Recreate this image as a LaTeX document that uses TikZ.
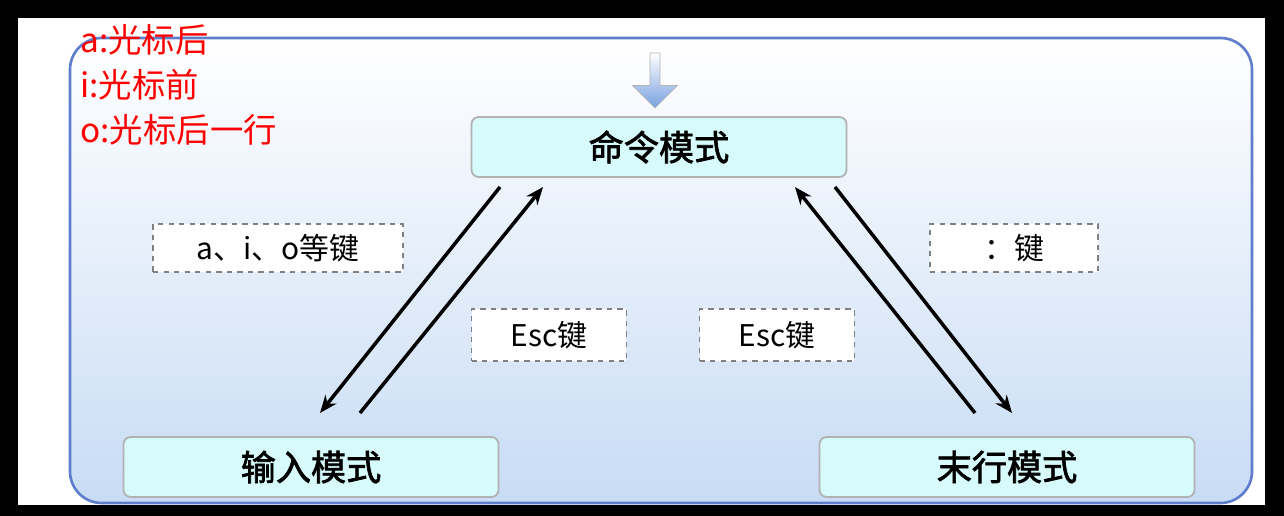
\documentclass[tikz,border=0pt]{standalone}
\usepackage{fontspec}
\setmainfont{Noto Sans CJK SC}[AutoFakeBold=2]
\usetikzlibrary{shapes.arrows,arrows.meta}
\definecolor{panelbot}{RGB}{200,220,245}
\definecolor{panelborder}{RGB}{95,125,205}
\definecolor{modefill}{RGB}{215,250,250}
\definecolor{arrowfill}{RGB}{120,160,225}
\begin{document}
\begin{tikzpicture}[x=0.02cm,y=-0.02cm,
  mode/.style={draw=gray!60,fill=modefill,rounded corners=4pt,line width=1pt,minimum width=7.5cm,minimum height=1.2cm,font=\fontsize{20}{24}\selectfont\bfseries},
  keylbl/.style={draw=gray,dashed,fill=white,thick,minimum height=0.96cm,font=\fontsize{17}{20}\selectfont},
  arr/.style={-{Stealth[length=10pt,width=8pt]},line width=2pt},
  red/.style={text=red,anchor=north west,inner sep=0pt,font=\fontsize{19}{22}\selectfont}]
\useasboundingbox (0,0) rectangle (1284,516);
\fill[black] (0,0) rectangle (1284,516);
\fill[white] (18,18) rectangle (1265,505);
\shade[top color=white,bottom color=panelbot,draw=panelborder,line width=1.5pt,rounded corners=18pt] (70,38) rectangle (1252,503);
\node[single arrow,shape border rotate=270,draw=gray!60,top color=white,bottom color=arrowfill,minimum height=1.1cm,minimum width=0.9cm,single arrow head extend=0.15cm,inner sep=1pt] (top) at (655,78) {};
\node[mode] (cmd) at (659,147) {命令模式};
\node[mode] (ins) at (311,467) {输入模式};
\node[mode] (last) at (1007,467) {末行模式};
\node[keylbl,minimum width=5cm] (l1) at (278,248) {a、i、o等键};
\node[keylbl,minimum width=3.1cm,minimum height=1.04cm] (l2) at (549,335) {Esc键};
\node[keylbl,minimum width=3.1cm,minimum height=1.04cm] (l3) at (777,335) {Esc键};
\node[keylbl,minimum width=3.36cm] (l4) at (1014,248) {：键};
\coordinate (a1) at (500,187); \coordinate (a2) at (320,413);
\coordinate (b1) at (360,413); \coordinate (b2) at (543,187);
\coordinate (c1) at (975,413); \coordinate (c2) at (795,187);
\coordinate (d1) at (835,187); \coordinate (d2) at (1012,413);
\draw[arr] (a1) -- (a2);
\draw[arr] (b1) -- (b2);
\draw[arr] (c1) -- (c2);
\draw[arr] (d1) -- (d2);
\node[red] (r1) at (80,24) {a:光标后};
\node[red] (r2) at (80,69) {i:光标前};
\node[red] (r3) at (80,114) {o:光标后一行};
\end{tikzpicture}
\end{document}
